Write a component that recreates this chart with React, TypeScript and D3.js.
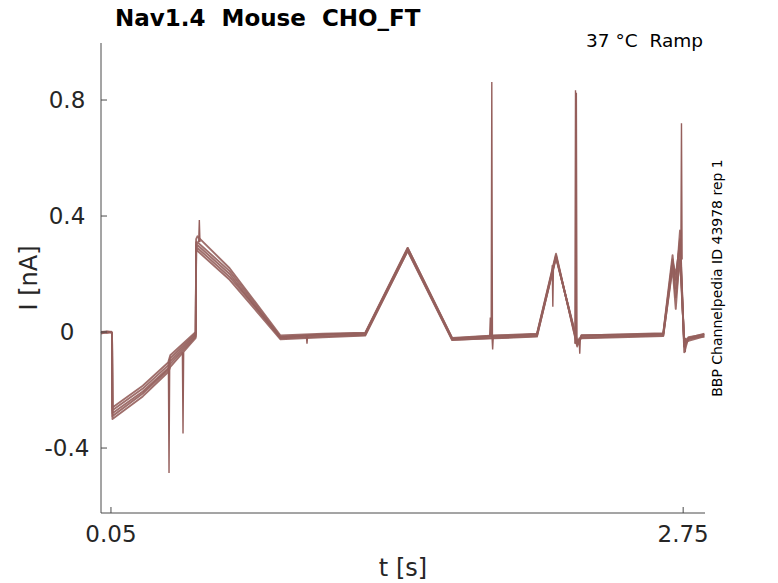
import React from "react";
import * as d3 from "d3";

const times = [0.003, 0.03, 0.052, 0.055, 0.057, 0.2, 0.32, 0.33, 0.45, 0.452, 0.458, 0.61, 0.85, 1.05, 1.25, 1.45, 1.66, 1.86, 2.06, 2.15, 2.25, 2.27, 2.45, 2.656, 2.70, 2.715, 2.735, 2.755, 2.775, 2.85];

const traceA = [0.0, 0.002, 0.0, -0.005, -0.26, -0.185, -0.105, -0.08, 0.0, 0.32, 0.33, 0.22, -0.012, -0.006, -0.002, 0.29, -0.02, -0.012, -0.006, 0.27, -0.05, -0.012, -0.008, -0.004, 0.265, 0.15, 0.35, -0.07, -0.02, -0.006];
const traceB = [-0.005, 0.0, -0.002, -0.005, -0.27, -0.195, -0.115, -0.09, -0.005, 0.31, 0.31, 0.21, -0.017, -0.01, -0.006, 0.285, -0.024, -0.016, -0.01, 0.26, -0.04, -0.016, -0.012, -0.008, 0.24, 0.20, 0.30, -0.05, -0.025, -0.01];
const traceC = [0.0, -0.003, 0.001, -0.005, -0.28, -0.205, -0.125, -0.10, -0.01, 0.30, 0.30, 0.20, -0.022, -0.015, -0.01, 0.28, -0.028, -0.02, -0.014, 0.255, -0.03, -0.02, -0.016, -0.012, 0.22, 0.08, 0.28, -0.04, -0.03, -0.015];
const traceD = [-0.003, 0.001, 0.0, -0.005, -0.29, -0.212, -0.13, -0.11, -0.015, 0.29, 0.29, 0.19, -0.018, -0.008, -0.004, 0.29, -0.022, -0.013, -0.008, 0.265, -0.045, -0.011, -0.009, -0.006, 0.25, 0.18, 0.32, -0.05, -0.018, -0.008];
const traceE = [0.0, -0.002, 0.0, -0.005, -0.30, -0.222, -0.138, -0.12, -0.02, 0.28, 0.28, 0.18, -0.025, -0.018, -0.012, 0.28, -0.027, -0.022, -0.016, 0.26, -0.035, -0.022, -0.018, -0.014, 0.23, 0.12, 0.25, -0.03, -0.022, -0.016];
const traces = [traceA, traceB, traceC, traceD, traceE];

// single-trace transient spikes: time, baseline, extreme
const spikeTimes = [0.324, 0.39, 0.467, 0.975, 2.135, 1.84, 1.847, 1.851, 2.242, 2.246, 2.262, 2.742, 2.76];
const spikeBase = [-0.12, -0.07, 0.31, -0.012, 0.23, -0.015, -0.015, -0.015, -0.04, -0.04, -0.02, 0.25, -0.02];
const spikePeak = [-0.486, -0.35, 0.386, -0.04, 0.087, 0.05, 0.862, -0.06, 0.834, 0.825, -0.075, 0.72, -0.07];

const yTicks = [-0.4, 0, 0.4, 0.8];
const yTickLabels = ["-0.4", "0", "0.4", "0.8"];
const xTicks = [0.05, 2.75];
const xTickLabels = ["0.05", "2.75"];

export default function App() {
  const W = 778, H = 583;
  const left = 101, right = 705, top = 43, bottom = 513;
  const x = d3.scaleLinear().domain([0.003, 2.853]).range([left, right]);
  const y = d3.scaleLinear().domain([-0.624, 0.9966]).range([bottom, top]);
  const line = d3.line<[number, number]>().x(d => x(d[0])).y(d => y(d[1]));
  const color = "#955f5c";
  const font = "DejaVu Sans, sans-serif";
  const axisColor = "#4a4a4a";
  return (
    <svg width={W} height={H} style={{ position: "absolute", left: 0, top: 0 }}>
      <rect width={W} height={H} fill="#fff" />
      <g>
        {traces.map((tr, i) => (
          <path key={i} d={line(times.map((t, j) => [t, tr[j]]) as [number, number][]) || ""} fill="none" stroke={color} strokeWidth={1.9} strokeLinejoin="round" opacity={0.9} />
        ))}
        {spikeTimes.map((t, i) => (
          <path key={"s" + i} d={line([[t - 0.003, spikeBase[i]], [t, spikePeak[i]], [t + 0.003, spikeBase[i]]]) || ""} fill="none" stroke={color} strokeWidth={1.4} />
        ))}
      </g>
      <line x1={left} x2={left} y1={top} y2={bottom} stroke={axisColor} strokeWidth={1} />
      <line x1={left} x2={right} y1={bottom} y2={bottom} stroke={axisColor} strokeWidth={1} />
      {yTicks.map((v, i) => (
        <g key={"y" + i}>
          <line x1={left} x2={left + 6} y1={y(v)} y2={y(v)} stroke={axisColor} />
          <text x={left - 34} y={y(v)} dy="0.36em" textAnchor="middle" fontFamily={font} fontSize={23} fill="#262626">{yTickLabels[i]}</text>
        </g>
      ))}
      {xTicks.map((v, i) => (
        <g key={"x" + i}>
          <line x1={x(v)} x2={x(v)} y1={bottom} y2={bottom - 6} stroke={axisColor} />
          <text x={x(v)} y={542} textAnchor="middle" fontFamily={font} fontSize={23} fill="#262626">{xTickLabels[i]}</text>
        </g>
      ))}
      <text x={403} y={576} textAnchor="middle" fontFamily={font} fontSize={24} fill="#262626">t [s]</text>
      <text transform="translate(37,278) rotate(-90)" textAnchor="middle" fontFamily={font} fontSize={24} fill="#262626">I [nA]</text>
      <text x={115} y={26} fontFamily={font} fontWeight="bold" fontSize={23} fill="#000" style={{ whiteSpace: "pre" }}>{"Nav1.4  Mouse  CHO_FT"}</text>
      <text x={703} y={47} textAnchor="end" fontFamily={font} fontSize={18.5} fill="#000" style={{ whiteSpace: "pre" }}>{"37 °C  Ramp"}</text>
      <text transform="translate(722,278) rotate(-90)" textAnchor="middle" fontFamily={font} fontSize={14} fill="#000">BBP Channelpedia ID 43978 rep 1</text>
    </svg>
  );
}
